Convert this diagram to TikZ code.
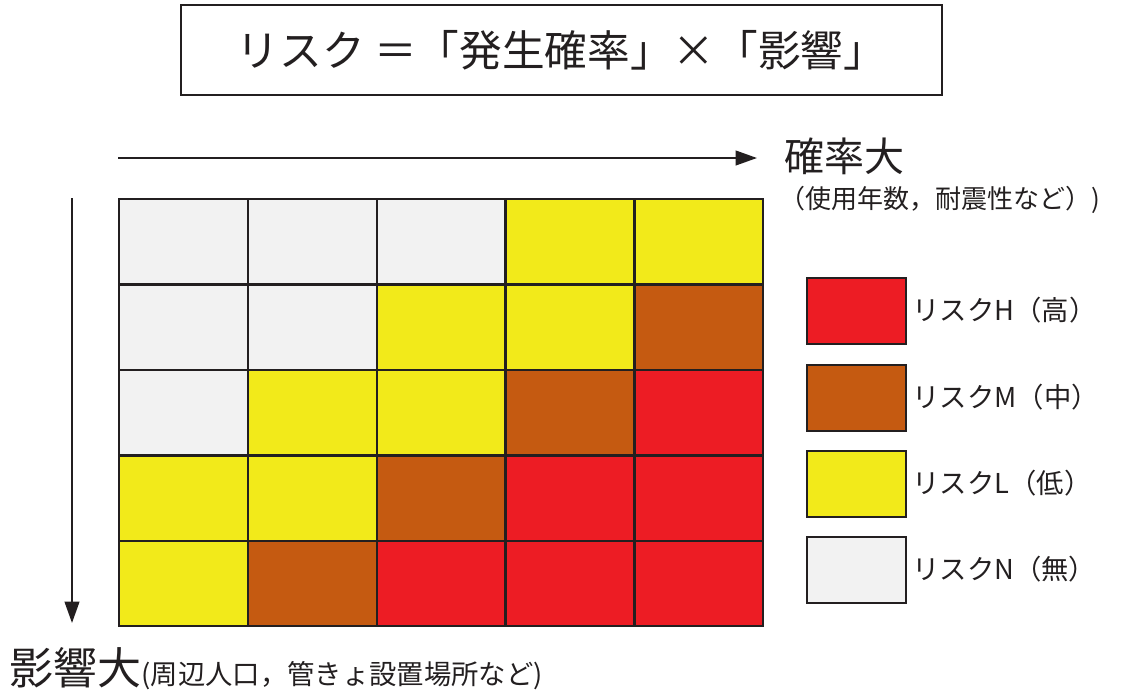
\documentclass[tikz,border=0pt]{standalone}
\usepackage{fontspec}
\setmainfont{Noto Sans CJK JP}
\usetikzlibrary{arrows.meta}
\definecolor{riskH}{RGB}{237,28,36}
\definecolor{riskM}{RGB}{197,90,17}
\definecolor{riskL}{RGB}{242,234,26}
\definecolor{riskN}{RGB}{242,242,242}
\definecolor{ink}{RGB}{35,31,32}
\tikzset{every picture/.style={line width=0.75pt}}
\tikzset{
  cell/.style={draw=ink, line width=1.8pt, anchor=north west, inner sep=0pt,
    minimum width=96.6pt, minimum height=64.05pt},
  keybox/.style={draw=ink, line width=1.8pt, anchor=north west, inner sep=0pt,
    minimum width=74.25pt, minimum height=49.5pt},
  keytext/.style={anchor=west, inner sep=0.75pt, text=ink, font=\fontsize{20.5}{24}\selectfont},
  axisarrow/.style={draw=ink, line width=1.5pt, -{Triangle[length=16pt,width=11pt]}}
}

\begin{document}
\begin{tikzpicture}[x=0.75pt,y=0.75pt,yscale=-1,xscale=1]
\useasboundingbox (0,0) rectangle (1125,690);

%Shape: Rectangle, title
\node [draw=ink, line width=1.5pt, minimum width=570.75pt, minimum height=67.5pt, inner sep=0pt, text=ink, font=\fontsize{32}{38}\selectfont] (title) at (561.5,50) {リスク ＝「発生確率」×「影響」};

%Straight Lines, probability axis
\coordinate (pstart) at (118,158);
\coordinate (pend) at (757,158);
\draw [axisarrow] (pstart) -- (pend);
%Straight Lines, impact axis
\coordinate (istart) at (72,198);
\coordinate (iend) at (72,623);
\draw [axisarrow] (istart) -- (iend);

%Shape: Rectangle, row 1
\node [cell, fill=riskN] (c11) at (118,198) {};
\node [cell, fill=riskN] (c12) at (246.8,198) {};
\node [cell, fill=riskN] (c13) at (375.6,198) {};
\node [cell, fill=riskL] (c14) at (504.4,198) {};
\node [cell, fill=riskL] (c15) at (633.2,198) {};
%Shape: Rectangle, row 2
\node [cell, fill=riskN] (c21) at (118,283.4) {};
\node [cell, fill=riskN] (c22) at (246.8,283.4) {};
\node [cell, fill=riskL] (c23) at (375.6,283.4) {};
\node [cell, fill=riskL] (c24) at (504.4,283.4) {};
\node [cell, fill=riskM] (c25) at (633.2,283.4) {};
%Shape: Rectangle, row 3
\node [cell, fill=riskN] (c31) at (118,368.8) {};
\node [cell, fill=riskL] (c32) at (246.8,368.8) {};
\node [cell, fill=riskL] (c33) at (375.6,368.8) {};
\node [cell, fill=riskM] (c34) at (504.4,368.8) {};
\node [cell, fill=riskH] (c35) at (633.2,368.8) {};
%Shape: Rectangle, row 4
\node [cell, fill=riskL] (c41) at (118,454.2) {};
\node [cell, fill=riskL] (c42) at (246.8,454.2) {};
\node [cell, fill=riskM] (c43) at (375.6,454.2) {};
\node [cell, fill=riskH] (c44) at (504.4,454.2) {};
\node [cell, fill=riskH] (c45) at (633.2,454.2) {};
%Shape: Rectangle, row 5
\node [cell, fill=riskL] (c51) at (118,539.6) {};
\node [cell, fill=riskM] (c52) at (246.8,539.6) {};
\node [cell, fill=riskH] (c53) at (375.6,539.6) {};
\node [cell, fill=riskH] (c54) at (504.4,539.6) {};
\node [cell, fill=riskH] (c55) at (633.2,539.6) {};

%Shape: Rectangle, legend
\node [keybox, fill=riskH] (keyH) at (806,277) {};
\node [keybox, fill=riskM] (keyM) at (806,364) {};
\node [keybox, fill=riskL] (keyL) at (806,450) {};
\node [keybox, fill=riskN] (keyN) at (806,536) {};

% Text Node
\node [keytext] (labH) at (911,310) {リスクH（高）};
% Text Node
\node [keytext] (labM) at (911,397) {リスクM（中）};
% Text Node
\node [keytext] (labL) at (911,483) {リスクL（低）};
% Text Node
\node [keytext] (labN) at (911,569) {リスクN（無）};
% Text Node
\node [anchor=west, inner sep=0.75pt, text=ink, font=\fontsize{30}{36}\selectfont] (pbig) at (783,156) {確率大};
% Text Node
\node [anchor=west, inner sep=0.75pt, text=ink, font=\fontsize{19.5}{23}\selectfont] (pnote) at (778,200) {（使用年数，耐震性など）)};
% Text Node
\node [anchor=base west, inner sep=0.75pt, text=ink] (ibig) at (8,684) {{\fontsize{33}{38}\selectfont 影響大}{\fontsize{20.5}{24}\selectfont (周辺人口，管きょ設置場所など)}};

\end{tikzpicture}
\end{document}
